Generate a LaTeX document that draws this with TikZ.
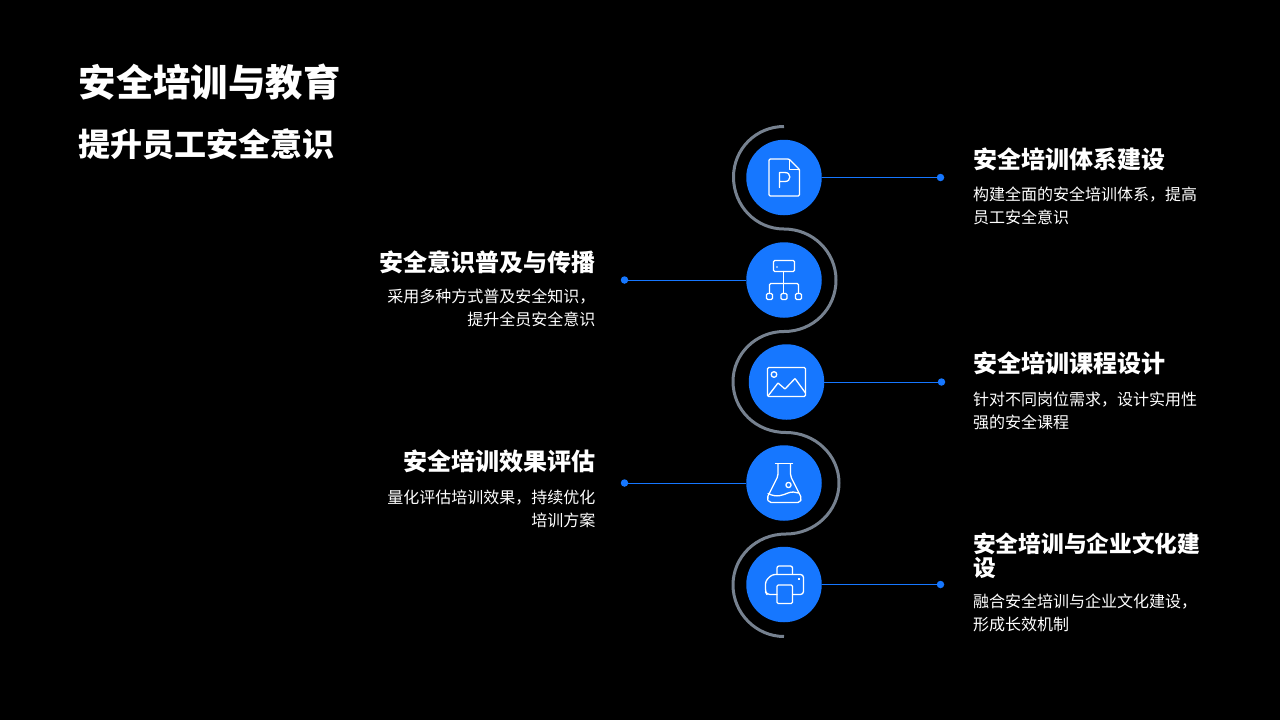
\documentclass[tikz,border=0pt]{standalone}
\usepackage{fontspec}
\setmainfont{Noto Sans CJK SC}
\definecolor{blu}{HTML}{1677FF}
\definecolor{cur}{HTML}{76818F}
\tikzset{
 x=1pt,y=-1pt,
 disc/.style={circle,fill=blu,draw=none,minimum size=75.5pt,inner sep=0pt},
 dotn/.style={circle,fill=blu,draw=none,minimum size=7.5pt,inner sep=0pt},
 conn/.style={draw=blu,line width=0.9pt},
 curve/.style={draw=cur,line width=3pt},
 icon/.style={draw=white,line width=1.3pt,line join=round,line cap=round,rounded corners=1.2pt},
 head/.style={inner sep=0pt,text=white,font=\fontsize{24}{25}\selectfont\bfseries},
 body/.style={inner sep=0pt,text=white,font=\fontsize{16}{23}\selectfont},
 title/.style={inner sep=0pt,text=white,anchor=west,font=\bfseries},
}
\begin{document}
\begin{tikzpicture}
\useasboundingbox[fill=black] (0,0) rectangle (1280,720);
\node[title,font=\fontsize{37.4}{40}\selectfont\bfseries] at (78.5,82) {安全培训与教育};
\node[title,font=\fontsize{32}{36}\selectfont\bfseries] at (78.5,144) {提升员工安全意识};
% serpentine
\draw[curve] (784,126.5) .. controls (756,126.5) and (733.5,149) .. (733.5,177)
 .. controls (733.5,206) and (756,229) .. (784,229)
 .. controls (813,229) and (836,252) .. (836,280)
 .. controls (836,309) and (813,331.5) .. (784,331.5)
 .. controls (756,331.5) and (733,354) .. (733,381.5)
 .. controls (733,410) and (756,432.5) .. (786,432.5)
 .. controls (815,432.5) and (839,455) .. (839,483)
 .. controls (839,511) and (815,534) .. (786,534)
 .. controls (756,534) and (733,557) .. (733,585)
 .. controls (733,613) and (756,636.5) .. (784,636.5);
% discs
\node[disc] (c1) at (784,177.5) {};
\node[disc] (c2) at (784,280) {};
\node[disc] (c3) at (786.5,382) {};
\node[disc] (c4) at (784,483) {};
\node[disc] (c5) at (784,584.5) {};
% end dots
\node[dotn] (d1) at (940.5,177.5) {};
\node[dotn] (d2) at (624.5,280) {};
\node[dotn] (d3) at (941.5,382) {};
\node[dotn] (d4) at (624.5,483) {};
\node[dotn] (d5) at (940.5,584.5) {};
\draw[conn] (c1) -- (d1);
\draw[conn] (c2) -- (d2);
\draw[conn] (c3) -- (d3);
\draw[conn] (c4) -- (d4);
\draw[conn] (c5) -- (d5);
% icon 1: document
\draw[icon] (789,159) -- (769,159) -- (769,196) -- (799.5,196) -- (799.5,169.5) -- cycle;
\draw[icon,rounded corners=0pt] (789.5,159.5) -- (789.5,169.5) -- (799.5,169.5);
\draw[icon,rounded corners=0pt] (779.5,187.5) -- (779.5,172.5) -- (785,172.5) .. controls (791.5,172.5) and (791.5,181.5) .. (785,181.5) -- (779.5,181.5);
% icon 2: hierarchy
\draw[icon] (773.5,260.5) rectangle (794.5,271.5);
\fill[white] (777,267) circle (0.8pt);
\draw[icon,rounded corners=0pt] (783.5,271.5) -- (783.5,293);
\draw[icon] (769.5,293) -- (769.5,283.5) -- (798.5,283.5) -- (798.5,293);
\draw[icon] (766.5,293.5) rectangle (772.5,299.5);
\draw[icon] (781,293.5) rectangle (787,299.5);
\draw[icon] (795.5,293.5) rectangle (801.5,299.5);
% icon 3: picture
\draw[icon] (767.5,367.5) rectangle (805.5,396.5);
\draw[icon] (774,374.5) circle (2.8pt);
\draw[icon,rounded corners=0.5pt] (768,396) -- (778,383) -- (785,389) -- (795,378.5) -- (805.5,393);
% icon 4: flask
\draw[icon,rounded corners=0pt] (775.5,463.5) -- (792.5,463.5);
\draw[icon,rounded corners=2pt] (778,464) -- (778,476) -- (767,498) -- (769,502.5) -- (800,502.5) -- (801.5,498) -- (790.5,476) -- (790.5,464);
\draw[icon] (788.5,485) circle (2.6pt);
\draw[icon,rounded corners=0pt] (768,493.5) .. controls (777,498) and (783,495) .. (788,493) .. controls (792,491.5) and (795,492) .. (798.5,493);
% icon 5: printer
\draw[icon,rounded corners=2pt] (777,574.5) -- (777,566) -- (792.5,566) -- (792.5,574.5);
\draw[icon,rounded corners=3pt] (777,594.5) -- (767,594.5) -- (765.5,592) -- (765.5,581) -- (772,574.5) -- (803.5,574.5) -- (803.5,594.5) -- (792.5,594.5);
\draw[icon] (777,585) rectangle (792.5,603.5);
\fill[white] (798,578) rectangle (799.5,579.5);
% right texts
\node[head,anchor=west] at (973,159) {安全培训体系建设};
\node[body,anchor=north west,align=left] at (973,187) {构建全面的安全培训体系，提高\\员工安全意识};
\node[head,anchor=west] at (973,363) {安全培训课程设计};
\node[body,anchor=north west,align=left] at (973,391.5) {针对不同岗位需求，设计实用性\\强的安全课程};
\node[head,anchor=north west,align=left,font=\fontsize{22.7}{23.5}\selectfont\bfseries] at (973,533) {安全培训与企业文化建\\设};
\node[body,anchor=north west,align=left] at (973,594) {融合安全培训与企业文化建设，\\形成长效机制};
% left texts
\node[head,anchor=east] at (595.5,262) {安全意识普及与传播};
\node[body,anchor=north east,align=right] at (595.5,289) {采用多种方式普及安全知识，\\提升全员安全意识};
\node[head,anchor=east] at (595.5,461.5) {安全培训效果评估};
\node[body,anchor=north east,align=right] at (595.5,490) {量化评估培训效果，持续优化\\培训方案};
\end{tikzpicture}
\end{document}
